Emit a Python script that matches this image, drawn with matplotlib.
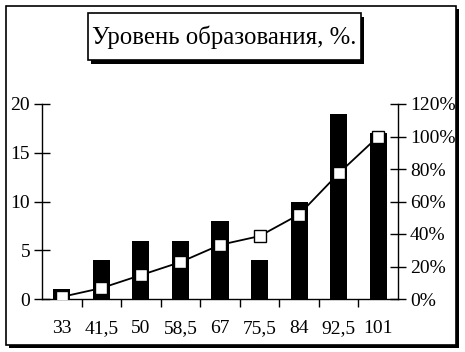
import matplotlib
matplotlib.use("Agg")
import matplotlib.pyplot as plt
from matplotlib.patches import Rectangle
from matplotlib.ticker import FuncFormatter

# data
categories = ["33", "41,5", "50", "58,5", "67", "75,5", "84", "92,5", "101"]
counts = [1, 4, 6, 6, 8, 4, 10, 19, 17]
cum_pct = [1.3, 6.7, 14.7, 22.7, 33.3, 38.7, 52.0, 77.3, 100.0]
title = "Уровень образования, %."

W, H = 465, 352
plt.rcParams['font.family'] = ['Liberation Serif', 'DejaVu Serif']

fig = plt.figure(figsize=(W / 100, H / 100), dpi=100)

def px(x, y, w, h):
    # pixel box (top-left origin) -> figure fraction
    return (x / W, 1 - (y + h) / H), w / W, h / H

# outer frame with shadow
xy, w, h = px(9, 9, 450, 339)
fig.patches.append(Rectangle(xy, w, h, transform=fig.transFigure,
                             facecolor="black", edgecolor="none", zorder=0))
xy, w, h = px(6, 6, 450, 339)
fig.patches.append(Rectangle(xy, w, h, transform=fig.transFigure,
                             facecolor="white", edgecolor="black", lw=1.2, zorder=1))

ax = fig.add_axes([42 / W, 53 / H, 356 / W, 195 / H])
ax.set_zorder(5)
ax.set_facecolor("none")
x = list(range(len(categories)))
ax.bar(x, counts, width=0.43, color="black", zorder=2)
ax.set_xlim(-0.5, len(categories) - 0.5)
ax.set_ylim(0, 20)
ax.set_yticks([0, 5, 10, 15, 20])
ax.set_xticks(x)
ax.set_xticklabels(categories)
ax.set_xticks([i + 0.5 for i in x[:-1]], minor=True)
ax.tick_params(axis="x", which="major", length=0, pad=15, labelsize=14)
ax.tick_params(axis="x", which="minor", length=6, direction="out", width=1)
ax.tick_params(axis="y", direction="inout", length=11, width=1, pad=3, labelsize=14)
ax.spines["top"].set_visible(False)
ax.spines["right"].set_visible(False)
for s in ("left", "bottom"):
    ax.spines[s].set_linewidth(1)

ax2 = ax.twinx()
ax2.set_zorder(6)
ax2.set_facecolor("none")
ax2.plot(x, cum_pct, color="black", lw=1.3, marker="s", markersize=8,
         markerfacecolor="white", markeredgecolor="black", markeredgewidth=1, zorder=3)
ax2.set_ylim(0, 120)
ax2.set_yticks(range(0, 121, 20))
ax2.yaxis.set_major_formatter(FuncFormatter(lambda v, p: f"{int(v)}%"))
ax2.tick_params(axis="y", direction="inout", length=11, width=1, pad=3, labelsize=14)
ax2.spines["top"].set_visible(False)
ax2.spines["left"].set_visible(False)
ax2.spines["bottom"].set_visible(False)
ax2.spines["right"].set_linewidth(1)

# title box with shadow
xy, w, h = px(91, 17, 273, 47)
fig.patches.append(Rectangle(xy, w, h, transform=fig.transFigure,
                             facecolor="black", edgecolor="none", zorder=2))
xy, w, h = px(88, 13, 273, 47)
fig.patches.append(Rectangle(xy, w, h, transform=fig.transFigure,
                             facecolor="white", edgecolor="black", lw=1.2, zorder=3))
fig.text((88 + 273 / 2) / W, 1 - 37 / H, title, ha="center", va="center",
         fontsize=17.8, zorder=4)

fig.savefig("out.png", dpi=100)
